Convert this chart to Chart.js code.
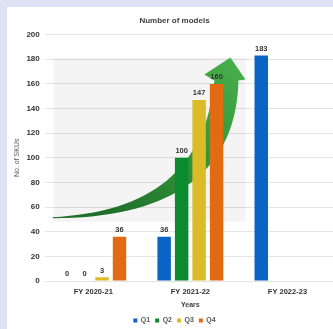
<!DOCTYPE html>
<html>
<head>
<meta charset="utf-8">
<script src="https://cdn.jsdelivr.net/npm/chart.js@4/dist/chart.umd.min.js"></script>
<style>
  html, body { margin: 0; padding: 0; width: 333px; height: 329px; overflow: hidden; background: #dde3f3; }
  #card { position: absolute; left: 7px; top: 7px; width: 326px; height: 322px; background: #ffffff; overflow: hidden; }
  #wrap { position: absolute; left: 0; top: 0; width: 329px; height: 327px; }
</style>
</head>
<body>
<div id="card"><div id="wrap"><canvas id="chart"></canvas></div></div>
<script>
// Number of models per quarter, by financial year
const categories = ['FY 2020-21', 'FY 2021-22', 'FY 2022-23'];
const seriesNames = ['Q1', 'Q2', 'Q3', 'Q4'];
const q1Values = [0, 36, 183];
const q2Values = [0, 100, null];
const q3Values = [3, 147, null];
const q4Values = [36, 160, null];
const yTicks = [0, 20, 40, 60, 80, 100, 120, 140, 160, 180, 200];

const seriesColors = ['#0b63c5', '#0b8a2f', '#dcbb28', '#e06b12'];
const FONT = '"Liberation Sans", Arial, sans-serif';

// Growth arrow outline, in (category offset, value) units
const growthPanel = { u0: -0.41, u1: 1.57, v0: 48, v1: 181 };
const arrowTopEdge = [[-0.423, 51.8], [0.588, 55.9], [1.155, 89.9], [1.247, 162.8]];
const arrowHead = [[1.144, 167.6], [1.412, 181.4], [1.567, 163.6], [1.495, 162.8]];
const arrowBottomEdge = [[1.474, 81.8], [0.691, 51.0], [-0.412, 51.0]];

const growthArrow = {
  id: 'growthArrow',
  beforeDatasetsDraw(chart) {
    const { ctx, scales: { x, y } } = chart;
    const cw = x.getPixelForValue(1) - x.getPixelForValue(0);
    const px = u => x.getPixelForValue(0) + u * cw;
    const py = v => y.getPixelForValue(v);
    ctx.save();
    // pale panel behind the arrow
    ctx.fillStyle = 'rgba(0,0,0,0.045)';
    ctx.fillRect(px(growthPanel.u0), py(growthPanel.v1),
      px(growthPanel.u1) - px(growthPanel.u0), py(growthPanel.v0) - py(growthPanel.v1));
    // curved arrow
    const g = ctx.createLinearGradient(px(1.3), py(182), px(0.2), py(50));
    g.addColorStop(0, '#46ad4a');
    g.addColorStop(0.6, '#2f8f37');
    g.addColorStop(1, '#1f6e2a');
    ctx.fillStyle = g;
    ctx.beginPath();
    const t = arrowTopEdge;
    ctx.moveTo(px(t[0][0]), py(t[0][1]));
    ctx.bezierCurveTo(px(t[1][0]), py(t[1][1]), px(t[2][0]), py(t[2][1]), px(t[3][0]), py(t[3][1]));
    arrowHead.forEach(p => ctx.lineTo(px(p[0]), py(p[1])));
    const b = arrowBottomEdge;
    ctx.bezierCurveTo(px(b[0][0]), py(b[0][1]), px(b[1][0]), py(b[1][1]), px(b[2][0]), py(b[2][1]));
    ctx.closePath();
    ctx.fill();
    ctx.restore();
  }
};

// value labels above each bar
const barValues = {
  id: 'barValues',
  afterDatasetsDraw(chart) {
    const { ctx } = chart;
    ctx.save();
    ctx.font = 'bold 7.5px ' + FONT;
    ctx.fillStyle = '#333333';
    ctx.textAlign = 'center';
    ctx.textBaseline = 'bottom';
    chart.data.datasets.forEach((ds, i) => {
      const meta = chart.getDatasetMeta(i);
      meta.data.forEach((bar, j) => {
        const v = ds.data[j];
        if (v === null || v === undefined) return;
        ctx.fillText(String(v), bar.x, bar.y - 3);
      });
    });
    ctx.restore();
  }
};

const allValues = [q1Values, q2Values, q3Values, q4Values];

new Chart(document.getElementById('chart'), {
  type: 'bar',
  data: {
    labels: categories,
    datasets: seriesNames.map((name, i) => ({
      label: name,
      data: allValues[i],
      backgroundColor: seriesColors[i],
      borderWidth: 0,
      categoryPercentage: 0.72,
      barPercentage: 0.77
    }))
  },
  options: {
    responsive: true,
    maintainAspectRatio: false,
    animation: false,
    layout: { padding: { left: 6, right: 0, top: 0, bottom: 0 } },
    plugins: {
      title: {
        display: true,
        text: 'Number of models',
        color: '#404040',
        font: { family: FONT, size: 8, weight: 'bold' },
        padding: { top: 9, bottom: 9 }
      },
      legend: {
        position: 'bottom',
        labels: {
          color: '#595959',
          font: { family: FONT, size: 7, weight: 'bold' },
          boxWidth: 4,
          boxHeight: 4,
          padding: 5
        }
      },
      tooltip: { enabled: false }
    },
    scales: {
      x: {
        grid: { display: false, drawTicks: false },
        border: { display: false },
        ticks: {
          color: '#333333',
          font: { family: FONT, size: 7.5, weight: 'bold' },
          padding: 6
        },
        title: {
          display: true,
          text: 'Years',
          color: '#404040',
          font: { family: FONT, size: 7, weight: 'bold', lineHeight: 1 },
          padding: { top: 0, bottom: 3 }
        }
      },
      y: {
        min: 0,
        max: 200,
        afterBuildTicks(axis) { axis.ticks = yTicks.map(v => ({ value: v })); },
        grid: { color: '#e4e4e4', drawTicks: false },
        border: { display: false },
        ticks: {
          color: '#333333',
          font: { family: FONT, size: 8, weight: 'bold' },
          padding: 5
        },
        title: {
          display: true,
          text: 'No. of SKUs',
          color: '#595959',
          font: { family: FONT, size: 7 },
          padding: { top: 0, bottom: 0 }
        }
      }
    }
  },
  plugins: [growthArrow, barValues]
});
</script>
</body>
</html>
